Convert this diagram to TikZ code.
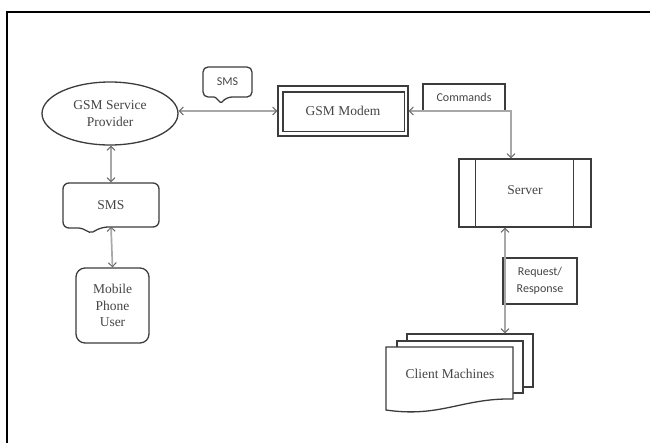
\documentclass[tikz,border=0pt]{standalone}
\usepackage{fontspec}
\setmainfont{Liberation Serif}
\newfontfamily\lblfont{Carlito}
\usetikzlibrary{shapes.geometric,arrows.meta}
\definecolor{boxc}{HTML}{3C3C3C}
\definecolor{connc}{HTML}{A8A8A8}
\definecolor{tipc}{HTML}{6A6A6A}
\definecolor{txtc}{HTML}{454545}
\tikzset{
  box/.style={draw=boxc, line width=1.3pt, fill=white, inner sep=0pt, text=txtc,
              font=\fontsize{13.5}{16.5}\selectfont, align=center},
  tag/.style={draw=boxc, line width=1.3pt, fill=white, inner sep=0pt, text=txtc,
              font=\lblfont\fontsize{12}{17}\selectfont, align=center},
  conn/.style={draw=connc, line width=1.7pt,
               arrows={Straight Barb[length=4pt,width=8pt,line width=1pt,color=tipc]-Straight Barb[length=4pt,width=8pt,line width=1pt,color=tipc]}},
}
\begin{document}
\begin{tikzpicture}[x=1pt,y=-1pt]
\useasboundingbox (0,0) rectangle (650,442);
% page frame (only its top and left edges fall inside)
\draw[line width=1.6pt, black] (7,444) -- (7,12) -- (652,12);

% left column
\node[box, ellipse, minimum width=136pt, minimum height=63pt] (gsp) at (110,113.5)
  {GSM Service\\Provider};
\node[box, draw=none, fill=none, minimum width=96pt, minimum height=44pt] (sms) at (111,205) {SMS};
\draw[draw=boxc, line width=1.3pt, rounded corners=6pt]
  (63,205) -- (63,183) -- (159,183) -- (159,227) -- (102,227)
  [rounded corners=2pt] -- (91,233) -- (81,228) [rounded corners=6pt] -- (63,228) -- (63,205);
\node[box, rounded corners=9pt, minimum width=73pt, minimum height=75pt] (user) at (112.5,305.5)
  {Mobile\\Phone\\User};

% modem and its label
\node[box, minimum width=130pt, minimum height=50pt] (modem) at (343,111) {GSM Modem};
\draw[draw=boxc, line width=1.3pt] ([xshift=5.5pt,yshift=5pt]modem.south west)
  rectangle ([xshift=-4.5pt,yshift=-6.5pt]modem.north east);
\node[tag, draw=none, fill=none, minimum width=49pt, minimum height=30pt] (smstag) at (227.5,82) {SMS};
\draw[draw=boxc, line width=1.3pt, rounded corners=5pt]
  (227,67) -- (252,67) -- (252,97) -- (227,97)
  [rounded corners=1pt] -- (221,103) -- (215,97) [rounded corners=5pt] -- (203,97) -- (203,67) -- (227,67);
\node[tag, minimum width=82pt, minimum height=27pt] (cmd) at (464,97.5) {Commands};

% server
\node[box, minimum width=132pt, minimum height=68pt] (srv) at (525,193) {\raisebox{6pt}{Server}};
\draw[draw=boxc, line width=1.3pt] ([xshift=17pt]srv.north west) -- ([xshift=17pt]srv.south west);
\draw[draw=boxc, line width=1.3pt] ([xshift=-18pt]srv.north east) -- ([xshift=-18pt]srv.south east);

% client machines (stacked sheets)
\node[box, minimum width=126pt, minimum height=53pt] (cmb) at (470,360.5) {};
\node[box, minimum width=126pt, minimum height=52pt] (cmm) at (460,367) {};
\draw[draw=boxc, line width=1.3pt, fill=white]
  (386,347) -- (513,347) -- (513,399) .. controls (462,398) and (440,418) .. (386,410) -- cycle;
\node[text=txtc, font=\fontsize{13.5}{16}\selectfont] (cmtext) at (450,374) {Client Machines};

\node[tag, minimum width=74pt, minimum height=46pt] (rr) at (540,281) {Request/\\Response};

% connectors
\coordinate (cmdbend) at (511,111);
\coordinate (rrline) at (505,281);
\draw[conn] (gsp.east |- modem.west) -- (modem.west);
\draw[conn] (modem.east) -| (srv.north -| cmdbend);
\draw[conn] (sms.north |- gsp.south) -- (sms.north);
\draw[conn] (sms.south) ++(0,-1) -- (user.north);
\draw[conn] (srv.south -| rrline) -- (cmb.north -| rrline);
\end{tikzpicture}
\end{document}
